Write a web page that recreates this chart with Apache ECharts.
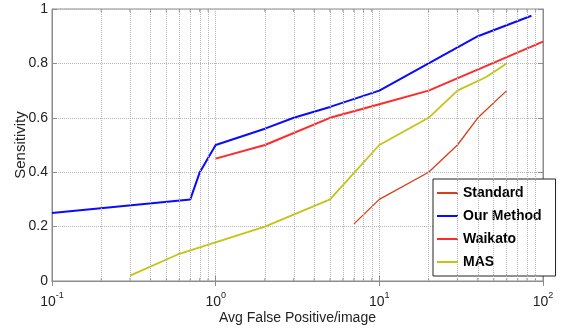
<!DOCTYPE html>
<html><head><meta charset="utf-8">
<script src="https://cdn.jsdelivr.net/npm/echarts@6/dist/echarts.min.js"></script>
<style>html,body{margin:0;padding:0;background:#fff}#c{width:566px;height:332px}</style>
</head><body><div id="c"></div>
<script>
const seriesNames = ['Standard', 'Our Method', 'Waikato', 'MAS'];
const standardX = [7, 10, 20, 30, 40, 60];
const standardY = [0.21, 0.30, 0.40, 0.50, 0.60, 0.70];
const ourX = [0.1, 0.7, 0.8, 1, 2, 3, 5, 10, 20, 40, 85];
const ourY = [0.25, 0.30, 0.40, 0.50, 0.56, 0.60, 0.64, 0.70, 0.80, 0.90, 0.975];
const waikatoX = [1, 2, 5, 10, 20, 100];
const waikatoY = [0.45, 0.50, 0.60, 0.65, 0.70, 0.88];
const masX = [0.3, 0.6, 2, 5, 10, 20, 30, 45, 60];
const masY = [0.02, 0.10, 0.20, 0.30, 0.50, 0.60, 0.70, 0.75, 0.80];
const xTickValues = [0.1, 1, 10, 100];
const yTickLabels = ['0', '0.2', '0.4', '0.6', '0.8', '1'];
const minorX = [0.2, 0.3, 0.4, 0.5, 0.6, 0.7, 0.8, 0.9, 2, 3, 4, 5, 6, 7, 8, 9, 20, 30, 40, 50, 60, 70, 80, 90];

const SANS = '"Liberation Sans", Arial, sans-serif';
const AX = '#8c8c8c';
const GRID = '#b4b4b4';
const TXT = '#222';
const colors = ['#db3c18', '#0a0aff', '#ff2a2a', '#c4c414'];
const widths = [1.3, 2, 2, 1.8];

const zip = (xs, ys) => xs.map((x, i) => [x, ys[i]]);
const seriesData = [zip(standardX, standardY), zip(ourX, ourY), zip(waikatoX, waikatoY), zip(masX, masY)];

const chart = echarts.init(document.getElementById('c'), null, {renderer: 'canvas'});

const xCommon = {
  type: 'log', logBase: 10, min: 0.1, max: 100,
  axisLine: {show: true, lineStyle: {color: AX, width: 1}},
  axisTick: {show: true, inside: true, length: 5, lineStyle: {color: AX}},
  minorTick: {show: false}
};
const yCommon = {
  type: 'value', min: 0, max: 1, interval: 0.2,
  axisLine: {show: true, lineStyle: {color: AX, width: 1}},
  axisTick: {show: true, inside: true, length: 5, lineStyle: {color: AX}}
};

const option = {
  animation: false,
  backgroundColor: '#fff',
  grid: {left: 52, right: 23, top: 9, bottom: 51, show: true, borderColor: AX, borderWidth: 1, backgroundColor: '#fff'},
  legend: {
    data: seriesNames,
    orient: 'vertical',
    left: 433, top: 179,
    padding: [6, 14, 6, 4],
    itemGap: 7,
    itemWidth: 21, itemHeight: 2,
    icon: 'rect',
    backgroundColor: '#fff',
    borderColor: '#222', borderWidth: 1,
    textStyle: {fontFamily: SANS, fontWeight: 'bold', fontSize: 14, color: '#000', lineHeight: 16}
  },
  xAxis: [
    Object.assign({}, xCommon, {
      position: 'bottom',
      name: 'Avg False Positive/image', nameLocation: 'middle', nameGap: 30, nameMoveOverlap: false,
      nameTextStyle: {fontFamily: SANS, fontSize: 14, color: TXT},
      splitLine: {show: true, lineStyle: {color: GRID, type: 'dotted', width: 1}},
      axisLabel: {
        margin: 10,
        formatter: function (v) { return '{b|10}{s|' + Math.round(Math.log10(v)) + '}'; },
        rich: {
          b: {fontFamily: SANS, fontSize: 14, color: TXT, verticalAlign: 'bottom', lineHeight: 18},
          s: {fontFamily: SANS, fontSize: 9, color: TXT, verticalAlign: 'top'}
        }
      }
    }),
    Object.assign({}, xCommon, {position: 'top', axisLabel: {show: false}, splitLine: {show: false}})
  ],
  yAxis: [
    Object.assign({}, yCommon, {
      position: 'left',
      name: 'Sensitivity', nameLocation: 'middle', nameGap: 24, nameRotate: 90, nameMoveOverlap: false,
      nameTextStyle: {fontFamily: SANS, fontSize: 15, color: TXT},
      splitLine: {show: true, lineStyle: {color: GRID, type: 'dotted', width: 1}},
      axisLabel: {margin: 4, fontFamily: SANS, fontSize: 14, color: TXT,
        formatter: function (v) { return yTickLabels[Math.round(v * 5)]; }}
    }),
    Object.assign({}, yCommon, {position: 'right', axisLabel: {show: false}, splitLine: {show: false}})
  ],
  series: [
    {
      type: 'line', name: '_minorgrid', data: [], silent: true,
      markLine: {
        silent: true, symbol: ['none', 'none'], label: {show: false},
        lineStyle: {color: GRID, type: 'dotted', width: 1},
        data: minorX.map(v => ({xAxis: v}))
      }
    },
    {
      type: 'custom', name: '_minorticks', silent: true,
      data: minorX.map(v => [v]),
      encode: {x: 0},
      renderItem: function (params, api) {
        const v = api.value(0);
        const b = api.coord([v, 0]);
        const t = api.coord([v, 1]);
        return {type: 'group', children: [
          {type: 'line', shape: {x1: b[0], y1: b[1], x2: b[0], y2: b[1] - 3}, style: {stroke: AX, lineWidth: 1}},
          {type: 'line', shape: {x1: t[0], y1: t[1], x2: t[0], y2: t[1] + 3}, style: {stroke: AX, lineWidth: 1}}
        ]};
      }
    }
  ].concat(seriesNames.map((n, i) => ({
    type: 'line', name: n, data: seriesData[i], color: colors[i],
    showSymbol: false, symbol: 'none',
    lineStyle: {color: colors[i], width: widths[i]},
    z: 3
  })))
};
chart.setOption(option);
</script>
</body></html>
